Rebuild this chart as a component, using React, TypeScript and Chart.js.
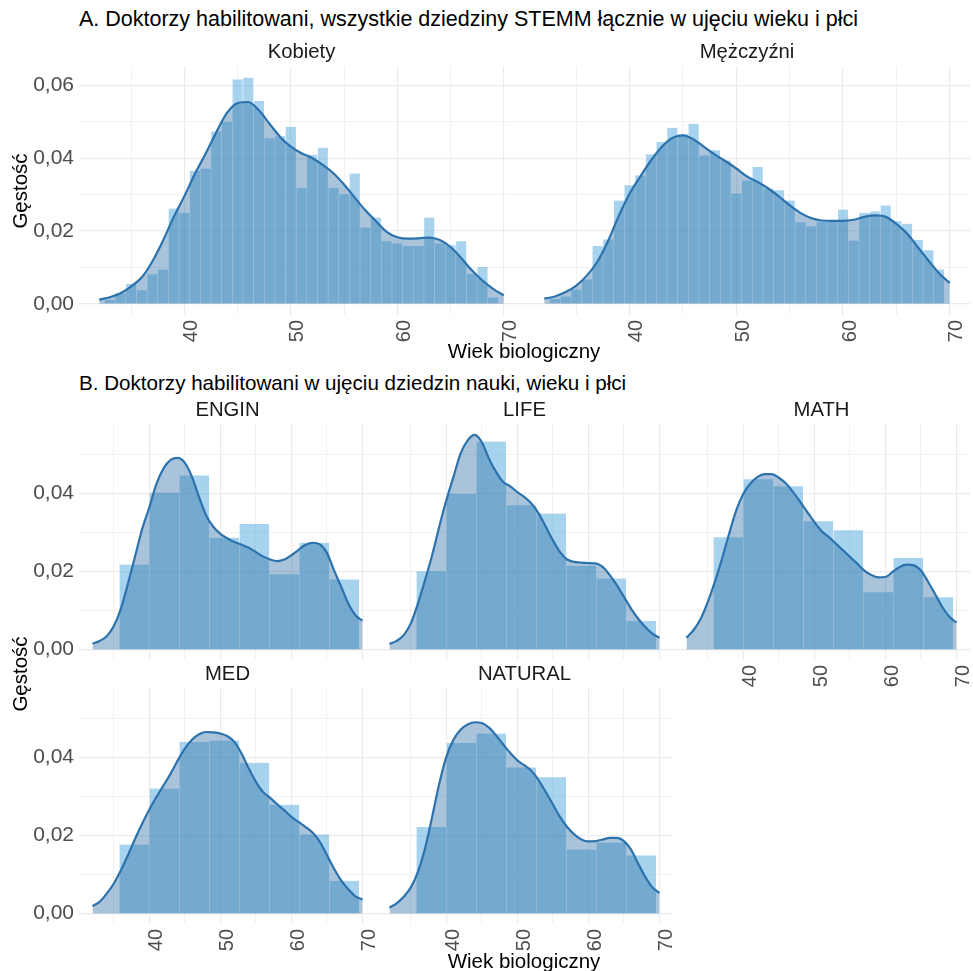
import React, { useEffect, useRef } from 'react';
import { Chart, registerables } from 'chart.js';

Chart.register(...registerables);

const FONT = '"Liberation Sans", Arial, Helvetica, sans-serif';

// ---------- shared axis data ----------
const X_MIN = 30.1;
const X_MAX = 71.9;
const xGridVals = [35, 40, 45, 50, 55, 60, 65, 70];
const xLabelVals = [40, 50, 60, 70];

const yGridA = [0, 0.01, 0.02, 0.03, 0.04, 0.05, 0.06];
const yLabelsA = ['0,00', '', '0,02', '', '0,04', '', '0,06'];
const yRangeA = [-0.0031, 0.0653];

const yGridB = [0, 0.01, 0.02, 0.03, 0.04, 0.05];
const yLabelsB = ['0,00', '', '0,02', '', '0,04', ''];
const yRangeB = [-0.0027, 0.0578];

// ages at which the density curves are read
const densityAges = [32, 33, 34, 35, 36, 37, 38, 39, 40, 41, 42, 43, 44, 45, 46, 47, 48, 49, 50, 51,
  52, 53, 54, 55, 56, 57, 58, 59, 60, 61, 62, 63, 64, 65, 66, 67, 68, 69, 70];

// ---------- Panel A: one-year bins ----------
const binCentersA = [33, 34, 35, 36, 37, 38, 39, 40, 41, 42, 43, 44, 45, 46, 47, 48, 49, 50, 51,
  52, 53, 54, 55, 56, 57, 58, 59, 60, 61, 62, 63, 64, 65, 66, 67, 68, 69];

const kobietyHist = [0.0011, 0.0029, 0.0055, 0.0037, 0.0081, 0.0094, 0.0262, 0.0250, 0.0365, 0.0372,
  0.0474, 0.0500, 0.0617, 0.0622, 0.0558, 0.0455, 0.0461, 0.0487, 0.0319, 0.0410, 0.0429, 0.0319,
  0.0301, 0.0358, 0.0210, 0.0237, 0.0172, 0.0166, 0.0159, 0.0159, 0.0237, 0.0166, 0.0161, 0.0172,
  0.0082, 0.0101, 0.0017];
const kobietyDensity = [0.0011, 0.0018, 0.0029, 0.0048, 0.0073, 0.0117, 0.0174, 0.0239, 0.0296, 0.0358,
  0.0413, 0.0472, 0.0525, 0.0552, 0.0555, 0.0532, 0.0495, 0.0459, 0.0432, 0.0414, 0.0401, 0.0382,
  0.0359, 0.0328, 0.0292, 0.0257, 0.0227, 0.0198, 0.0183, 0.0179, 0.0180, 0.0182, 0.0175, 0.0156,
  0.0126, 0.0092, 0.0064, 0.0041, 0.0023];

const mezczyzniHist = [0.0013, 0.0020, 0.0039, 0.0067, 0.0159, 0.0177, 0.0284, 0.0326, 0.0353, 0.0411,
  0.0445, 0.0484, 0.0466, 0.0495, 0.0408, 0.0422, 0.0394, 0.0303, 0.0339, 0.0376, 0.0317, 0.0312,
  0.0284, 0.0224, 0.0213, 0.0225, 0.0225, 0.0259, 0.0174, 0.0250, 0.0254, 0.0270, 0.0227, 0.0220,
  0.0176, 0.0147, 0.0094];
const mezczyzniDensity = [0.0014, 0.0020, 0.0032, 0.0050, 0.0078, 0.0117, 0.0174, 0.0243, 0.0303,
  0.0350, 0.0394, 0.0431, 0.0456, 0.0463, 0.0452, 0.0431, 0.0410, 0.0392, 0.0372, 0.0350, 0.0335,
  0.0317, 0.0295, 0.0271, 0.0250, 0.0236, 0.0229, 0.0228, 0.0228, 0.0231, 0.0239, 0.0243, 0.0239,
  0.0220, 0.0193, 0.0156, 0.0119, 0.0084, 0.0057];

// ---------- Panel B: wider bins ----------
const binCentersB = [37.89, 42.11, 46.33, 50.56, 54.78, 59.0, 63.22, 67.44];

const enginHist = [0.0218, 0.0403, 0.0447, 0.0287, 0.0322, 0.0193, 0.0274, 0.0180];
const enginDensity = [0.0015, 0.0022, 0.0034, 0.0060, 0.0105, 0.0170, 0.0240, 0.0310, 0.0365, 0.0425,
  0.0465, 0.0487, 0.0492, 0.0479, 0.0443, 0.0391, 0.0344, 0.0315, 0.0297, 0.0285, 0.0276, 0.0269,
  0.0261, 0.0250, 0.0239, 0.0231, 0.0227, 0.0231, 0.0242, 0.0256, 0.0269, 0.0274, 0.0270, 0.0248,
  0.0203, 0.0161, 0.0118, 0.0088, 0.0074];

const lifeHist = [0.0201, 0.0399, 0.0534, 0.0370, 0.0349, 0.0215, 0.0182, 0.0073];
const lifeDensity = [0.0014, 0.0022, 0.0037, 0.0067, 0.0118, 0.0178, 0.0242, 0.0315, 0.0383, 0.0443,
  0.0503, 0.0537, 0.0551, 0.0532, 0.0490, 0.0456, 0.0430, 0.0419, 0.0404, 0.0391, 0.0374, 0.0349,
  0.0315, 0.0280, 0.0250, 0.0231, 0.0225, 0.0223, 0.0222, 0.0221, 0.0212, 0.0191, 0.0165, 0.0135,
  0.0105, 0.0079, 0.0058, 0.0041, 0.0030];

const mathHist = [0.0288, 0.0437, 0.0419, 0.0329, 0.0306, 0.0147, 0.0235, 0.0134];
const mathDensity = [0.0030, 0.0050, 0.0079, 0.0122, 0.0174, 0.0233, 0.0297, 0.0357, 0.0400, 0.0426,
  0.0443, 0.0450, 0.0450, 0.0441, 0.0426, 0.0404, 0.0379, 0.0353, 0.0327, 0.0304, 0.0289, 0.0272,
  0.0255, 0.0238, 0.0221, 0.0203, 0.0191, 0.0185, 0.0186, 0.0199, 0.0212, 0.0218, 0.0216, 0.0203,
  0.0174, 0.0142, 0.0109, 0.0084, 0.0069];

const medHist = [0.0177, 0.0321, 0.0440, 0.0444, 0.0387, 0.0279, 0.0203, 0.0084];
const medDensity = [0.0019, 0.0030, 0.0051, 0.0077, 0.0111, 0.0150, 0.0192, 0.0231, 0.0267, 0.0299,
  0.0329, 0.0359, 0.0393, 0.0423, 0.0446, 0.0460, 0.0466, 0.0465, 0.0462, 0.0455, 0.0440, 0.0410,
  0.0372, 0.0338, 0.0312, 0.0297, 0.0280, 0.0265, 0.0248, 0.0235, 0.0222, 0.0207, 0.0184, 0.0150,
  0.0115, 0.0085, 0.0062, 0.0044, 0.0036];

const naturalHist = [0.0222, 0.0438, 0.0462, 0.0375, 0.0350, 0.0164, 0.0182, 0.0149];
const naturalDensity = [0.0015, 0.0026, 0.0043, 0.0067, 0.0107, 0.0167, 0.0248, 0.0333, 0.0402, 0.0446,
  0.0472, 0.0485, 0.0491, 0.0489, 0.0477, 0.0457, 0.0434, 0.0412, 0.0393, 0.0380, 0.0366, 0.0342,
  0.0312, 0.0280, 0.0248, 0.0222, 0.0203, 0.0190, 0.0185, 0.0186, 0.0190, 0.0194, 0.0194, 0.0186,
  0.0164, 0.0128, 0.0094, 0.0067, 0.0053];

// ---------- text ----------
const titleA = 'A. Doktorzy habilitowani, wszystkie dziedziny STEMM łącznie w ujęciu wieku i płci';
const titleB = 'B. Doktorzy habilitowani w ujęciu dziedzin nauki, wieku i płci';
const xTitle = 'Wiek biologiczny';
const yTitle = 'Gęstość';

// ---------- styles ----------
const BAR_FILL = 'rgba(81, 167, 223, 0.5)';
const BAR_EDGE = 'rgba(255, 255, 255, 0.45)';
const DENS_FILL = 'rgba(40, 108, 163, 0.4)';
const LINE = 'rgb(44, 114, 173)';
const GRID = '#ebebeb';
const TICK = '#4d4d4d';
const STRIP = '#1a1a1a';
const STRIP_H = 26;
const PAD_R = 20;

type PanelSpec = {
  title: string;
  L: number; R: number; T: number; B: number;
  showY: boolean; showX: boolean;
  yGrid: number[]; yLabels: string[]; yRange: number[];
  bins: number[]; hist: number[]; density: number[];
};

const panels: PanelSpec[] = [
  { title: 'Kobiety', L: 79, R: 524, T: 66, B: 315, showY: true, showX: true, yGrid: yGridA, yLabels: yLabelsA, yRange: yRangeA, bins: binCentersA, hist: kobietyHist, density: kobietyDensity },
  { title: 'Mężczyźni', L: 524, R: 970, T: 66, B: 315, showY: false, showX: true, yGrid: yGridA, yLabels: yLabelsA, yRange: yRangeA, bins: binCentersA, hist: mezczyzniHist, density: mezczyzniDensity },
  { title: 'ENGIN', L: 79, R: 376, T: 424, B: 660, showY: true, showX: false, yGrid: yGridB, yLabels: yLabelsB, yRange: yRangeB, bins: binCentersB, hist: enginHist, density: enginDensity },
  { title: 'LIFE', L: 376, R: 673, T: 424, B: 660, showY: false, showX: false, yGrid: yGridB, yLabels: yLabelsB, yRange: yRangeB, bins: binCentersB, hist: lifeHist, density: lifeDensity },
  { title: 'MATH', L: 673, R: 970, T: 424, B: 660, showY: false, showX: true, yGrid: yGridB, yLabels: yLabelsB, yRange: yRangeB, bins: binCentersB, hist: mathHist, density: mathDensity },
  { title: 'MED', L: 79, R: 376, T: 688, B: 924, showY: true, showX: true, yGrid: yGridB, yLabels: yLabelsB, yRange: yRangeB, bins: binCentersB, hist: medHist, density: medDensity },
  { title: 'NATURAL', L: 376, R: 673, T: 688, B: 924, showY: false, showX: true, yGrid: yGridB, yLabels: yLabelsB, yRange: yRangeB, bins: binCentersB, hist: naturalHist, density: naturalDensity },
];

function geom(p: PanelSpec) {
  const yw = p.showY ? p.L : 0;
  const xh = p.showX ? 35 : 0;
  return {
    yw, xh,
    left: p.L - yw,
    top: p.T - STRIP_H,
    width: p.R - p.L + yw + PAD_R,
    height: p.B - p.T + STRIP_H + xh,
  };
}

function zeroPad(s: any) {
  s.paddingLeft = 0; s.paddingRight = 0; s.paddingTop = 0; s.paddingBottom = 0;
}

function buildConfig(p: PanelSpec): any {
  const g = geom(p);
  return {
    type: 'bar',
    data: {
      datasets: [
        {
          type: 'bar',
          data: p.bins.map((x, i) => ({ x, y: p.hist[i] })),
          backgroundColor: BAR_FILL,
          borderColor: BAR_EDGE,
          borderWidth: { left: 0.6, right: 0.6, top: 0, bottom: 0 },
          barPercentage: 1,
          categoryPercentage: 1,
          order: 2,
        },
        {
          type: 'line',
          data: densityAges.map((x, i) => ({ x, y: p.density[i] })),
          borderColor: LINE,
          borderWidth: 2.2,
          backgroundColor: DENS_FILL,
          fill: 'origin',
          pointRadius: 0,
          cubicInterpolationMode: 'monotone',
          order: 1,
        },
      ],
    },
    options: {
      animation: false,
      responsive: false,
      events: [],
      layout: { padding: { left: 0, right: PAD_R, top: 0, bottom: 0 } },
      plugins: {
        legend: { display: false },
        tooltip: { enabled: false },
        title: {
          display: true,
          text: p.title,
          fullSize: false,
          color: STRIP,
          font: { family: FONT, size: 20.3, weight: 'normal', lineHeight: 1.2 },
          padding: { top: 0, bottom: 2 },
        },
      },
      scales: {
        x: {
          type: 'linear',
          min: X_MIN,
          max: X_MAX,
          offset: false,
          afterBuildTicks: (s: any) => { s.ticks = xGridVals.map((v) => ({ value: v })); },
          afterFit: (s: any) => { s.height = g.xh; zeroPad(s); },
          border: { display: false },
          grid: {
            offset: false,
            color: GRID,
            drawTicks: false,
            lineWidth: (ctx: any) => (ctx.tick && xLabelVals.includes(ctx.tick.value) ? 1.2 : 0.7),
          },
          ticks: {
            display: p.showX,
            autoSkip: false,
            minRotation: 90,
            maxRotation: 90,
            padding: 5,
            labelOffset: 7,
            color: TICK,
            font: { family: FONT, size: 20 },
            callback: (v: any) => (xLabelVals.includes(v) ? String(v) : ''),
          },
        },
        y: {
          type: 'linear',
          min: p.yRange[0],
          max: p.yRange[1],
          afterBuildTicks: (s: any) => { s.ticks = p.yGrid.map((v) => ({ value: v })); },
          afterFit: (s: any) => { s.width = g.yw; zeroPad(s); },
          border: { display: false },
          grid: {
            color: GRID,
            drawTicks: false,
            lineWidth: (ctx: any) => (ctx.index % 2 === 0 ? 1.2 : 0.7),
          },
          ticks: {
            display: p.showY,
            padding: 5,
            color: TICK,
            font: { family: FONT, size: 21 },
            callback: (_v: any, i: number) => p.yLabels[i],
          },
        },
      },
    },
  };
}

function Panel({ spec }: { spec: PanelSpec }) {
  const ref = useRef<HTMLCanvasElement>(null);
  const g = geom(spec);
  useEffect(() => {
    const chart = new Chart(ref.current as HTMLCanvasElement, buildConfig(spec));
    return () => chart.destroy();
  }, [spec]);
  return (
    <canvas
      ref={ref}
      width={g.width}
      height={g.height}
      style={{ position: 'absolute', left: g.left, top: g.top, width: g.width, height: g.height }}
    />
  );
}

function Text({ text, x, capY, size, anchor = 'start', rotate = false, color = '#000' }:
  { text: string; x: number; capY: number; size: number; anchor?: string; rotate?: boolean; color?: string }) {
  const base: any = {
    position: 'absolute',
    whiteSpace: 'nowrap',
    fontFamily: FONT,
    fontSize: size,
    lineHeight: `${size}px`,
    color,
  };
  if (rotate) {
    return <div style={{ ...base, left: x, top: capY, transform: 'translate(-50%, -50%) rotate(-90deg)' }}>{text}</div>;
  }
  const top = capY - 0.49 * size;
  if (anchor === 'middle') {
    return <div style={{ ...base, left: x, top, transform: 'translateX(-50%)' }}>{text}</div>;
  }
  return <div style={{ ...base, left: x, top }}>{text}</div>;
}

export default function App() {
  return (
    <div style={{ position: 'absolute', left: 0, top: 0, width: 973, height: 971, overflow: 'hidden', background: '#fff' }}>
      {panels.map((p) => <Panel key={p.title} spec={p} />)}
      <Text text={titleA} x={79} capY={20} size={21.5} />
      <Text text={titleB} x={79} capY={383} size={20.6} />
      <Text text={xTitle} x={524} capY={351} size={20.5} anchor="middle" />
      <Text text={xTitle} x={524} capY={961} size={20.5} anchor="middle" />
      <Text text={yTitle} x={20} capY={190.5} size={20.5} rotate />
      <Text text={yTitle} x={20} capY={674} size={20.5} rotate />
    </div>
  );
}
